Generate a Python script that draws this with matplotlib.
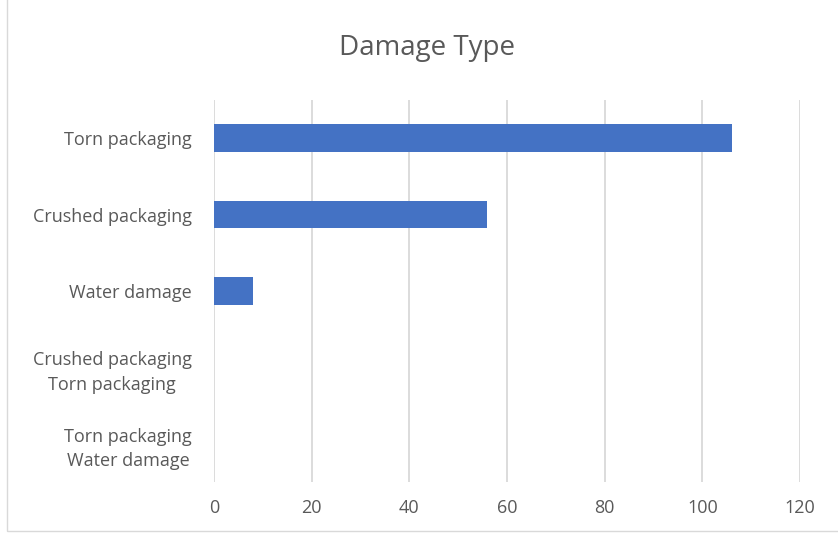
import matplotlib.pyplot as plt
from matplotlib.patches import Rectangle

categories = ['Torn packaging', 'Crushed packaging', 'Water damage',
              'Crushed packaging\nTorn packaging', 'Torn packaging\nWater damage']
counts = [106, 56, 8, 0, 0]
xticks = [0, 20, 40, 60, 80, 100, 120]

plt.rcParams['font.family'] = ['Open Sans', 'DejaVu Sans']
grey = '#595959'

fig = plt.figure(figsize=(8.38, 5.33), dpi=100)
ax = fig.add_axes([214 / 838, 1 - 482 / 533, 586 / 838, 382 / 533])

y = range(len(categories))
ax.barh(y, counts, height=0.36, color='#4472c4', zorder=3)
ax.set_ylim(len(categories) - 0.5, -0.5)
ax.set_xlim(0, 120)
ax.set_xticks(xticks)
ax.set_yticks(list(y))
ax.set_yticklabels(categories, multialignment='center', linespacing=1.45)
ax.tick_params(axis='both', length=0, labelsize=13, labelcolor=grey)
ax.tick_params(axis='x', pad=12)
ax.tick_params(axis='y', pad=16)
ax.grid(axis='x', color='#d9d9d9', linewidth=1.3, zorder=0)
for s in ax.spines.values():
    s.set_visible(False)

fig.text(427 / 838, 1 - 48 / 533, 'Damage Type', ha='center', va='center',
         fontsize=20, color=grey)

# outer chart border
fig.patches.append(Rectangle((7 / 838, 2 / 533), 1.0, 1.0, transform=fig.transFigure,
                             fill=False, edgecolor='#d9d9d9', linewidth=1))

fig.savefig('out.png', dpi=100)
